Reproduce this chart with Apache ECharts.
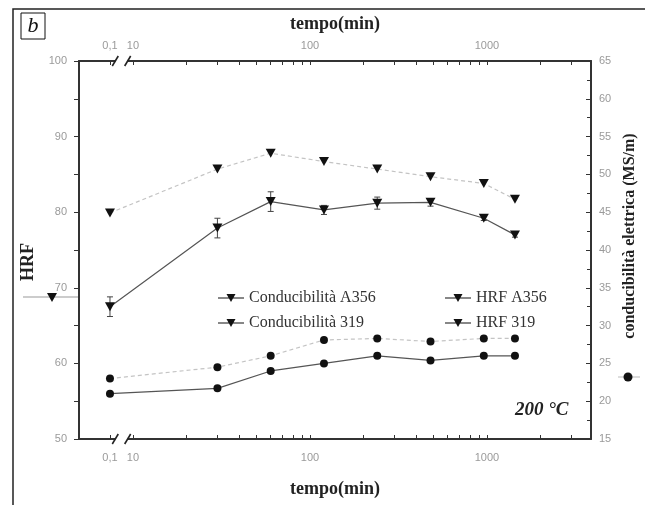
<!DOCTYPE html>
<html lang="it">
<head>
<meta charset="UTF-8">
<title>HRF e conducibilità - 200 °C</title>
<script src="https://cdn.jsdelivr.net/npm/echarts@6/dist/echarts.min.js"></script>
<style>
  html, body { margin: 0; padding: 0; background: #fff; }
  #main { width: 651px; height: 505px; }
</style>
</head>
<body>
<div id="main"></div>
<script>
// tempo di invecchiamento (min); 0,1 = stato iniziale
const times = [0.1, 30, 60, 120, 240, 480, 960, 1440];
const hrfA356 = [67.5, 77.9, 81.4, 80.3, 81.2, 81.3, 79.2, 77.0];
const hrfA356Err = [1.3, 1.3, 1.3, 0.6, 0.8, 0.5, 0.3, 0.3];
const hrf319 = [79.9, 85.7, 87.8, 86.7, 85.7, 84.7, 83.8, 81.7];
const condA356 = [21.0, 21.7, 24.0, 25.0, 26.0, 25.4, 26.0, 26.0];
const cond319 = [23.0, 24.5, 26.0, 28.1, 28.3, 27.9, 28.3, 28.3];

const majorTicks = [0.1, 10, 100, 1000];
const tickLabels = ['0,1', '10', '100', '1000'];
const minorTicks = [20, 30, 40, 50, 60, 70, 80, 90, 200, 300, 400, 500, 600, 700, 800, 900, 2000, 3000];

const lg = v => Math.log10(v);
const pairs = vals => times.map((t, i) => [lg(t), vals[i]]);

var chart = echarts.init(document.getElementById('main'));

const labelStyle = { color: '#9a9a9a', fontSize: 11, fontFamily: 'Liberation Sans' };
const nameStyle = { fontFamily: 'Liberation Serif', fontWeight: 'bold', fontSize: 18, color: '#222' };
const downTri = 'path://M0,0 L10,0 L5,9 Z';
const legendIcon = 'path://M0,4.6 L26,4.6 L26,5.4 L0,5.4 Z M8.5,1 L17.5,1 L13,9 Z';

function xAxisCfg(pos) {
  return {
    type: 'value',
    position: pos,
    min: -1.175,
    max: 3.588,
    breaks: [{ start: -0.97, end: 0.97, gap: 0.07 }],
    breakArea: { show: false },
    name: 'tempo(min)',
    nameLocation: 'middle',
    nameGap: pos === 'top' ? 28 : 41,
    nameTextStyle: nameStyle,
    axisLine: { onZero: false, lineStyle: { color: '#333', width: 2 } },
    axisTick: {
      inside: true, length: 4, lineStyle: { color: '#333' },
      customValues: majorTicks.concat(minorTicks).map(lg)
    },
    axisLabel: Object.assign({
      margin: pos === 'top' ? 10 : 13,
      hideOverlap: false,
      customValues: majorTicks.map(lg),
      formatter: function (v) {
        let i = majorTicks.findIndex(t => Math.abs(lg(t) - v) < 1e-6);
        return i >= 0 ? tickLabels[i] : '';
      }
    }, labelStyle),
    splitLine: { show: false }
  };
}

const option = {
  animation: false,
  backgroundColor: '#fff',
  grid: { left: 79, right: 60, top: 61, bottom: 66, containLabel: false },
  xAxis: [xAxisCfg('bottom'), xAxisCfg('top')],
  yAxis: [
    {
      type: 'value', position: 'left', min: 50, max: 100, interval: 10,
      name: 'HRF', nameLocation: 'middle', nameRotate: 90, nameGap: 29,
      nameTextStyle: Object.assign({ padding: [0, 24, 0, 0] }, nameStyle),
      axisLine: { show: true, onZero: false, lineStyle: { color: '#333', width: 2 } },
      axisTick: { show: true, inside: false, length: 5, lineStyle: { color: '#333' } },
      minorTick: { show: true, splitNumber: 2, length: 5, lineStyle: { color: '#333' } },
      axisLabel: Object.assign({ margin: 12 }, labelStyle),
      splitLine: { show: false }
    },
    {
      type: 'value', position: 'right', min: 15, max: 65, interval: 5,
      name: 'conducibilità elettrica (MS/m)', nameLocation: 'middle', nameRotate: 90, nameGap: 29,
      nameTextStyle: Object.assign({}, nameStyle, { fontSize: 16, padding: [0, 0, 0, 28] }),
      axisLine: { show: true, onZero: false, lineStyle: { color: '#333', width: 2 } },
      axisTick: { show: true, inside: true, length: 5, lineStyle: { color: '#333' } },
      minorTick: { show: true, splitNumber: 2, length: 4, lineStyle: { color: '#333' } },
      axisLabel: Object.assign({ margin: 8 }, labelStyle),
      splitLine: { show: false }
    }
  ],
  legend: [
    {
      left: 213, top: 285, orient: 'vertical', itemGap: 9, itemWidth: 26, itemHeight: 10,
      icon: legendIcon,
      textStyle: { fontFamily: 'Liberation Serif', fontSize: 16, color: '#333' },
      data: ['Conducibilità A356', 'Conducibilità 319'],
      itemStyle: { color: '#111' }
    },
    {
      left: 440, top: 285, orient: 'vertical', itemGap: 9, itemWidth: 26, itemHeight: 10,
      icon: legendIcon,
      textStyle: { fontFamily: 'Liberation Serif', fontSize: 16, color: '#333' },
      data: ['HRF A356', 'HRF 319'],
      itemStyle: { color: '#111' }
    }
  ],
  series: [
    {
      name: 'HRF A356', type: 'line', xAxisIndex: 0, yAxisIndex: 0,
      data: pairs(hrfA356), symbol: downTri, symbolSize: [10, 9],
      itemStyle: { color: '#111' }, lineStyle: { color: '#555', width: 1.2 }, z: 3
    },
    {
      name: 'HRF 319', type: 'line', xAxisIndex: 0, yAxisIndex: 0,
      data: pairs(hrf319), symbol: downTri, symbolSize: [10, 9],
      itemStyle: { color: '#111' }, lineStyle: { color: '#c4c4c4', width: 1.2, type: [4, 3] }, z: 3
    },
    {
      name: 'Conducibilità A356', type: 'line', xAxisIndex: 0, yAxisIndex: 1,
      data: pairs(condA356), symbol: 'circle', symbolSize: 8,
      itemStyle: { color: '#111' }, lineStyle: { color: '#555', width: 1.2 }, z: 3
    },
    {
      name: 'Conducibilità 319', type: 'line', xAxisIndex: 0, yAxisIndex: 1,
      data: pairs(cond319), symbol: 'circle', symbolSize: 8,
      itemStyle: { color: '#111' }, lineStyle: { color: '#c4c4c4', width: 1.2, type: [4, 3] }, z: 3
    },
    {
      name: 'err', type: 'custom', xAxisIndex: 0, yAxisIndex: 0, z: 2,
      data: times.map((t, i) => [lg(t), hrfA356[i] - hrfA356Err[i], hrfA356[i] + hrfA356Err[i]]),
      renderItem: function (params, api) {
        const lo = api.coord([api.value(0), api.value(1)]);
        const hi = api.coord([api.value(0), api.value(2)]);
        const st = { stroke: '#444', lineWidth: 1 };
        return {
          type: 'group',
          children: [
            { type: 'line', shape: { x1: lo[0], y1: lo[1], x2: hi[0], y2: hi[1] }, style: st },
            { type: 'line', shape: { x1: lo[0] - 3, y1: lo[1], x2: lo[0] + 3, y2: lo[1] }, style: st },
            { type: 'line', shape: { x1: hi[0] - 3, y1: hi[1], x2: hi[0] + 3, y2: hi[1] }, style: st }
          ]
        };
      }
    }
  ],
  graphic: [
    // cornice
    { type: 'polyline', shape: { points: [[13, 505], [13, 9], [645, 9]] }, style: { stroke: '#222', lineWidth: 1.5, fill: null } },
    { type: 'rect', shape: { x: 21, y: 13, width: 24, height: 26 }, style: { stroke: '#111', lineWidth: 1, fill: '#fff' } },
    { type: 'text', x: 33, y: 26, style: { text: 'b', font: 'italic 22px "Liberation Serif"', fill: '#111', align: 'center', verticalAlign: 'middle' } },
    { type: 'text', x: 515, y: 410, style: { text: '200 °C', font: 'italic bold 19px "Liberation Serif"', fill: '#222', verticalAlign: 'middle' } },
    // simboli accanto ai titoli degli assi
    { type: 'line', shape: { x1: 23, y1: 297, x2: 79, y2: 297 }, style: { stroke: '#999', lineWidth: 1 } },
    { type: 'polygon', shape: { points: [[47, 293], [57, 293], [52, 302]] }, style: { fill: '#111' } },
    { type: 'line', shape: { x1: 618, y1: 377, x2: 640, y2: 377 }, style: { stroke: '#bbb', lineWidth: 1 } },
    { type: 'circle', shape: { cx: 628, cy: 377, r: 4.5 }, style: { fill: '#111' } }
  ]
};

chart.setOption(option);

// segni di interruzione "//" sugli assi orizzontali
const bx1 = chart.convertToPixel({ xAxisIndex: 0 }, -0.97);
const bx2 = chart.convertToPixel({ xAxisIndex: 0 }, 0.97);
const marks = [];
[61, 439].forEach(function (yy) {
  marks.push({ type: 'rect', shape: { x: bx1, y: yy - 2, width: bx2 - bx1, height: 4 }, style: { fill: '#fff' }, z: 10 });
  [bx1, bx2].forEach(function (xx) {
    marks.push({ type: 'line', shape: { x1: xx - 3, y1: yy + 5, x2: xx + 3, y2: yy - 5 }, style: { stroke: '#222', lineWidth: 1.6 }, z: 10 });
  });
});
chart.setOption({ graphic: option.graphic.concat(marks) });
</script>
</body>
</html>
